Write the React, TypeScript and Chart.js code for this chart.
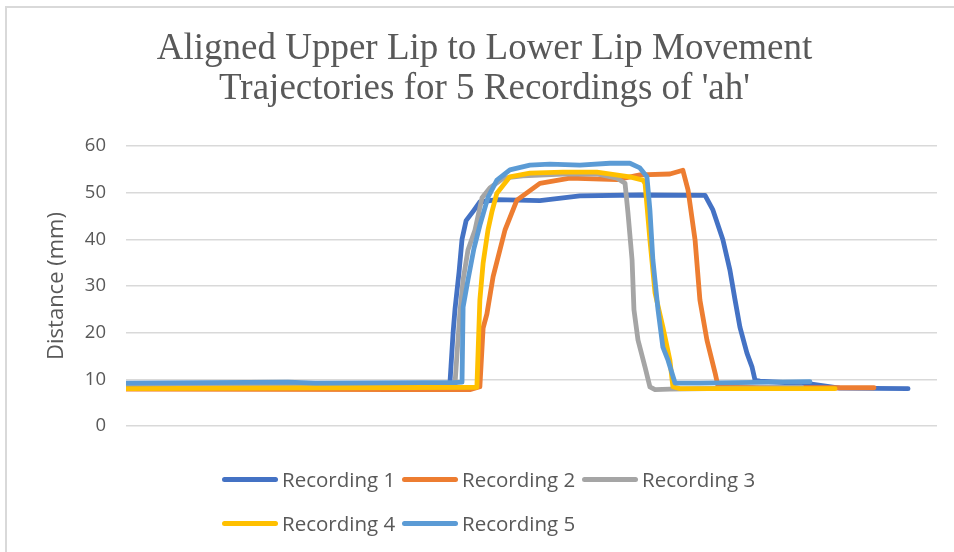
import React, { useEffect, useRef } from "react";
import { Chart, registerables } from "chart.js";

Chart.register(...registerables);

const TITLE_LINES = [
  "Aligned Upper Lip to Lower Lip Movement",
  "Trajectories for 5 Recordings of 'ah'",
];
const Y_TITLE = "Distance (mm)";
const Y_TICKS = [0, 10, 20, 30, 40, 50, 60];
const SERIES_LABELS = ["Recording 1", "Recording 2", "Recording 3", "Recording 4", "Recording 5"];
const SERIES_COLORS = ["#4472C4", "#ED7D31", "#A5A5A5", "#FFC000", "#5B9BD5"];

// time (ms) / distance (mm) vertices of each trajectory
const rec1Time = [0, 644, 1198, 1210, 1217, 1232, 1243, 1258, 1284, 1309, 1372, 1531, 1679, 1901, 2142, 2171, 2208, 2234, 2253, 2271, 2297, 2316, 2327, 2345, 2530, 2640, 2893];
const rec1Dist = [8.8, 8.9, 8.9, 20, 25, 33, 40, 44, 46, 48.0, 48.5, 48.3, 49.3, 49.5, 49.4, 46.3, 39.9, 33.4, 27, 21.2, 15.6, 12.6, 9.8, 9.6, 9.0, 8.1, 8.0];

const rec2Time = [0, 1014, 1272, 1309, 1321, 1335, 1358, 1383, 1402, 1446, 1531, 1642, 1816, 1901, 2012, 2060, 2079, 2105, 2123, 2149, 2179, 2190, 2345, 2767];
const rec2Dist = [7.9, 7.8, 7.8, 8.4, 21, 24, 32, 37.7, 42, 48.4, 52, 53.1, 52.8, 53.8, 54.0, 54.8, 50.6, 39.9, 27, 18.4, 11.4, 8.5, 8.2, 8.2];

const rec3Time = [0, 1217, 1224, 1235, 1247, 1265, 1291, 1317, 1346, 1395, 1468, 1616, 1742, 1816, 1846, 1857, 1872, 1879, 1894, 1920, 1938, 1957, 2012, 2500];
const rec3Dist = [9.0, 9.0, 15, 24.2, 31.3, 37.7, 42, 48.9, 51, 53.1, 53.6, 54, 54, 53.1, 52, 45.6, 35.6, 24.9, 18.4, 12.6, 8.4, 7.8, 7.9, 8.3];

const rec4Time = [0, 1298, 1309, 1321, 1339, 1354, 1372, 1420, 1494, 1616, 1742, 1864, 1912, 1920, 1938, 1957, 1986, 2012, 2023, 2049, 2623];
const rec4Dist = [8.0, 8.3, 27, 34.9, 42, 46, 49.9, 53.4, 54.2, 54.4, 54.4, 53.4, 52.7, 52, 39.9, 28.5, 21.2, 14.1, 8.4, 8.0, 8.0];

const rec5Time = [0, 600, 700, 1100, 1217, 1243, 1247, 1265, 1287, 1309, 1339, 1372, 1420, 1494, 1568, 1679, 1790, 1864, 1901, 1927, 1938, 1949, 1968, 1986, 2005, 2031, 2123, 2530];
const rec5Dist = [9.2, 9.4, 9.2, 9.3, 9.3, 9.4, 25.5, 31.3, 38, 43, 49, 52.7, 54.9, 55.9, 56.1, 55.9, 56.3, 56.3, 55.3, 53.4, 46.3, 35.6, 24.9, 16.9, 14.1, 9.2, 9.2, 9.5];

const SERIES_TIMES = [rec1Time, rec2Time, rec3Time, rec4Time, rec5Time];
const SERIES_DISTS = [rec1Dist, rec2Dist, rec3Dist, rec4Dist, rec5Dist];

const TEXT_COLOR = "#595959";
const SANS = '"Open Sans", "Liberation Sans", sans-serif';

export default function App() {
  const canvasRef = useRef<HTMLCanvasElement | null>(null);

  useEffect(() => {
    document.body.style.margin = "0";
    const canvas = canvasRef.current;
    if (!canvas) return;
    const datasets = SERIES_LABELS.map((label, i) => ({
      label,
      data: SERIES_TIMES[i].map((t, j) => ({ x: t, y: SERIES_DISTS[i][j] })),
      borderColor: SERIES_COLORS[i],
      backgroundColor: SERIES_COLORS[i],
      borderWidth: 4.8,
      borderCapStyle: "round" as const,
      borderJoinStyle: "round" as const,
      pointRadius: 0,
      tension: 0,
      fill: false,
      order: SERIES_LABELS.length - i,
    }));
    const chart = new Chart(canvas, {
      type: "line",
      data: { datasets },
      options: {
        animation: false,
        responsive: false,
        maintainAspectRatio: false,
        layout: { padding: { left: 32, right: 17, top: 0, bottom: 126 } },
        plugins: {
          legend: { display: false },
          tooltip: { enabled: false },
          title: {
            display: true,
            text: TITLE_LINES,
            color: TEXT_COLOR,
            font: {
              family: '"Liberation Serif", "Times New Roman", serif',
              size: 37,
              weight: "normal",
              lineHeight: 40 / 37,
            },
            padding: { top: 29, bottom: 37 },
          },
        },
        scales: {
          x: { type: "linear", min: 0, max: 3000, display: false },
          y: {
            min: 0,
            max: 60,
            afterBuildTicks: (scale: any) => {
              scale.ticks = Y_TICKS.map((v) => ({ value: v }));
            },
            afterFit: (scale: any) => {
              scale.width = 94;
            },
            ticks: {
              color: TEXT_COLOR,
              font: { family: SANS, size: 18.5 },
              padding: 20,
            },
            grid: { color: "#d9d9d9", lineWidth: 1.4, drawTicks: false },
            border: { display: false },
            title: {
              display: true,
              text: Y_TITLE,
              color: TEXT_COLOR,
              font: { family: SANS, size: 22 },
              padding: { top: 12, bottom: 0 },
            },
          },
        },
      },
    });
    return () => chart.destroy();
  }, []);

  return (
    <div style={{ position: "relative", width: 954, height: 552, overflow: "hidden", background: "#fff" }}>
      <div
        style={{
          position: "absolute",
          left: 5,
          top: 6,
          width: 1100,
          height: 700,
          border: "2px solid #d9d9d9",
          boxSizing: "border-box",
        }}
      />
      <canvas ref={canvasRef} width={954} height={552} style={{ position: "absolute", left: 0, top: 0, display: "block" }} />
      <div
        style={{
          position: "absolute",
          left: 222,
          top: 457,
          display: "grid",
          gridTemplateColumns: "repeat(3, 180px)",
          gridAutoRows: "44px",
        }}
      >
        {SERIES_LABELS.map((label, i) => (
          <div key={label} style={{ display: "flex", alignItems: "center", height: 44 }}>
            <span
              style={{
                display: "inline-block",
                width: 56,
                height: 5,
                borderRadius: 3,
                background: SERIES_COLORS[i],
                marginRight: 4,
                flex: "none",
              }}
            />
            <span style={{ fontFamily: SANS, fontSize: 20.5, color: TEXT_COLOR, lineHeight: 1, whiteSpace: "nowrap" }}>
              {label}
            </span>
          </div>
        ))}
      </div>
    </div>
  );
}
